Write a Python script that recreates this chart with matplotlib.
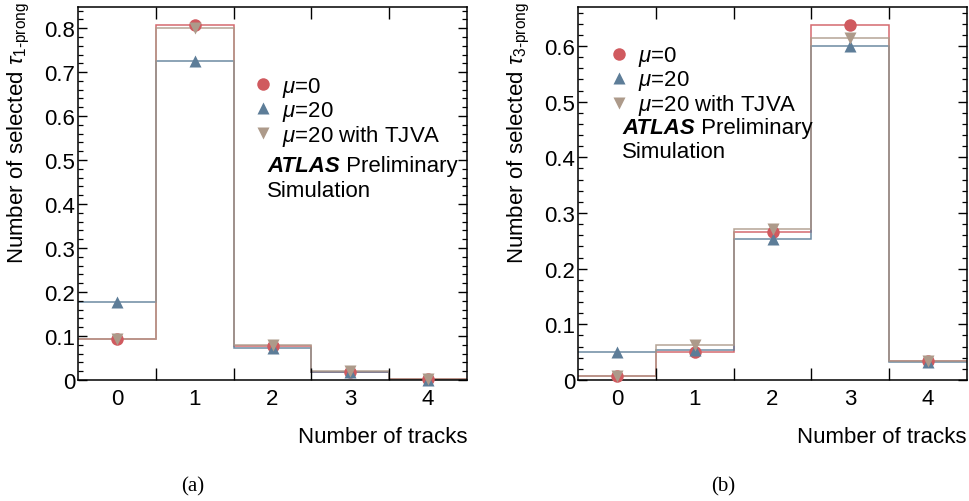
import matplotlib
matplotlib.use("Agg")
import matplotlib.pyplot as plt
from matplotlib.ticker import MultipleLocator, FormatStrFormatter

plt.rcParams["font.family"] = ["Liberation Sans", "DejaVu Sans"]
plt.rcParams["mathtext.fontset"] = "custom"
plt.rcParams["mathtext.rm"] = "Liberation Sans"
plt.rcParams["mathtext.it"] = "Liberation Sans:italic"
plt.rcParams["mathtext.bf"] = "Liberation Sans:bold"

# ── data ──────────────────────────────────────────────────────────
n_tracks = [0, 1, 2, 3, 4]
edges = [-0.5, 0.5, 1.5, 2.5, 3.5, 4.5]

# (a) 1-prong taus
a_mu0 = [0.093, 0.807, 0.078, 0.019, 0.002]
a_mu20 = [0.178, 0.726, 0.073, 0.018, 0.001]
a_tjva = [0.094, 0.801, 0.080, 0.020, 0.002]

# (b) 3-prong taus
b_mu0 = [0.008, 0.050, 0.265, 0.638, 0.034]
b_mu20 = [0.051, 0.054, 0.253, 0.600, 0.032]
b_tjva = [0.007, 0.062, 0.271, 0.615, 0.034]

labels = [r"$\mu$=0", r"$\mu$=20", r"$\mu$=20 with TJVA"]
colors = ["#d05a5f", "#5d7d98", "#ad9a8a"]
markers = ["o", "^", "v"]

FS = 16

fig = plt.figure(figsize=(9.69, 5.02), dpi=100)
W, H = 969.0, 502.0


def panel(x0, series, ymax, ylab, leg_xy, atlas_xy, caption, cap_x):
    ax = fig.add_axes([x0 / W, (H - 381) / H, 389 / W, 373 / H])
    for vals, c in zip(series, colors):
        ax.stairs(vals, edges, color=c, lw=1.1, alpha=0.9, baseline=None)
    for vals, c, m, lab in zip(series, colors, markers, labels):
        ax.plot(n_tracks, vals, ls="none", marker=m, color=c, ms=9,
                mec="none", label=lab, clip_on=False, zorder=4)
    ax.set_xlim(-0.5, 4.5)
    ax.set_ylim(0, ymax)

    # x: labels at bin centres, ticks at bin edges
    ax.set_xticks(n_tracks)
    ax.set_xticks(edges[1:-1], minor=True)
    ax.tick_params(axis="x", which="major", length=0, pad=6, labelsize=FS)
    ax.tick_params(axis="x", which="minor", direction="in", length=8.5,
                   top=True, bottom=True, width=1.0)
    # y
    ax.yaxis.set_major_locator(MultipleLocator(0.1))
    ax.yaxis.set_minor_locator(MultipleLocator(0.02))
    ax.yaxis.set_major_formatter(FormatStrFormatter("%g"))
    ax.tick_params(axis="y", which="major", direction="in", length=6.5,
                   left=True, right=True, labelsize=FS, pad=2, width=1.0)
    ax.tick_params(axis="y", which="minor", direction="in", length=3.5,
                   left=True, right=True, width=0.9)
    for s in ax.spines.values():
        s.set_linewidth(1.1)

    # ROOT style: y title flush with the top of the frame
    ax.text(-0.152, 1.015, ylab, transform=ax.transAxes, rotation=90,
            fontsize=FS, ha="center", va="top")
    ax.set_xlabel("Number of tracks", fontsize=FS, ha="right")
    ax.xaxis.set_label_coords(1.0, -0.124)

    ax.legend(loc="upper left", bbox_to_anchor=leg_xy, frameon=False,
              fontsize=FS, handlelength=1.0, handletextpad=0.35,
              borderpad=0, borderaxespad=0, labelspacing=0.0,
              markerscale=1.0)

    t = ax.text(atlas_xy[0], atlas_xy[1], "ATLAS", transform=ax.transAxes,
                fontsize=FS, fontweight="bold", style="italic", va="center")
    ax.annotate(" Preliminary", xy=(1, 0.5), xycoords=t, fontsize=FS,
                va="center", ha="left")
    ax.text(atlas_xy[0], atlas_xy[1] - 0.065, "Simulation",
            transform=ax.transAxes, fontsize=FS, va="center")

    fig.text(cap_x / W, 1 - 487 / H, caption, fontsize=15,
             family="Liberation Serif", ha="center", va="center")
    return ax


panel(78, [a_mu0, a_mu20, a_tjva], 0.848,
      r"Number of selected $\tau_{\mathrm{1‐prong}}$",
      (0.447, 0.818), (0.486, 0.574), "(a)", 193)
panel(578, [b_mu0, b_mu20, b_tjva], 0.67,
      r"Number of selected $\tau_{\mathrm{3‐prong}}$",
      (0.077, 0.900), (0.113, 0.678), "(b)", 723)

fig.savefig("out.png", dpi=100, facecolor="white")
